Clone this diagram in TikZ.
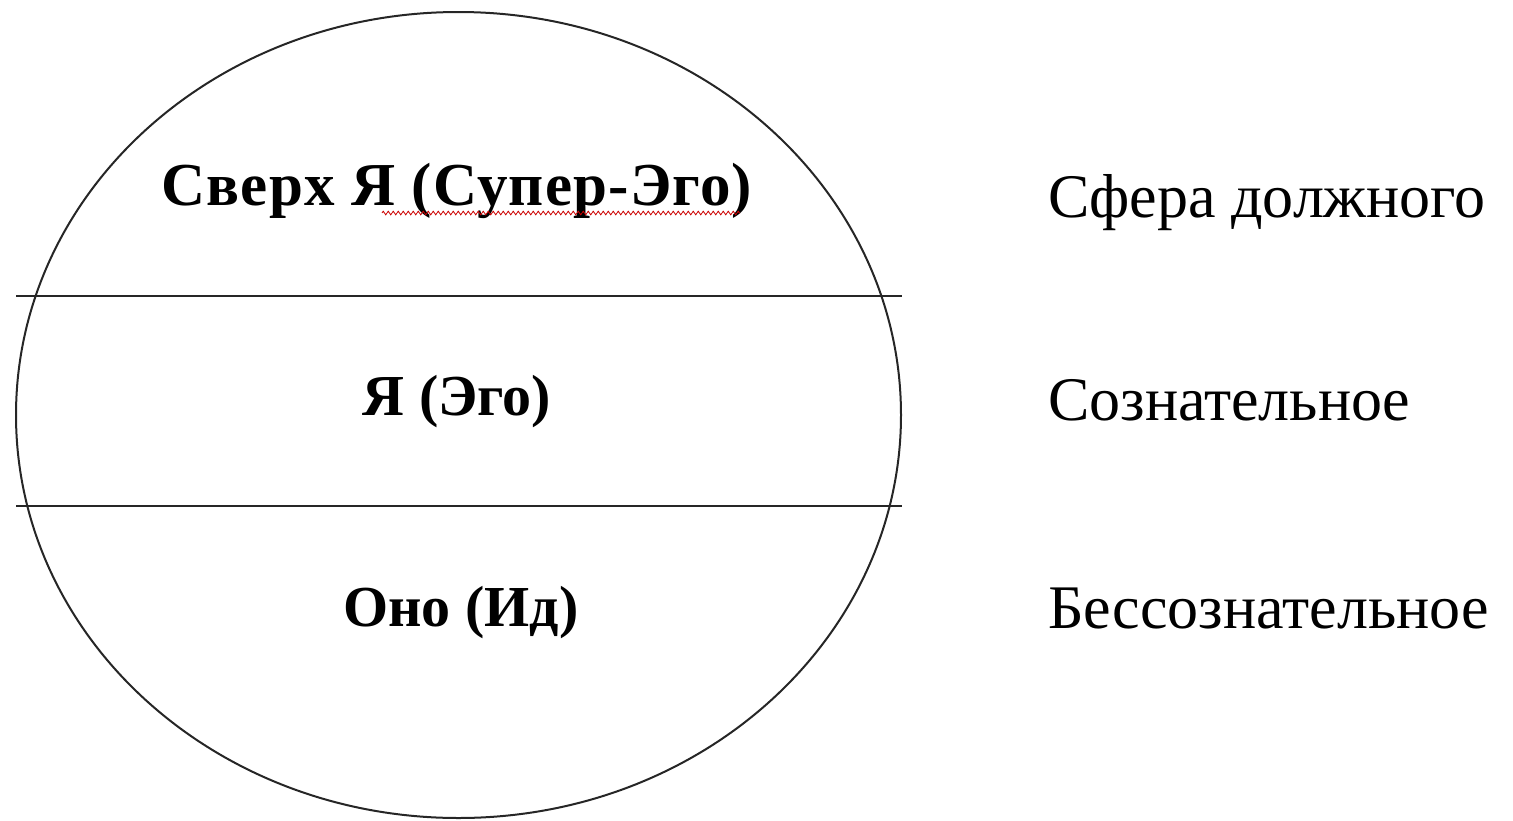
\documentclass[tikz,border=0pt]{standalone}
\usepackage{fontspec}
\setmainfont{Liberation Serif}
\usetikzlibrary{decorations.pathmorphing}
\begin{document}
\begin{tikzpicture}[x=1pt,y=-1pt,
  inner/.style={font=\fontsize{58}{68}\selectfont\bfseries, anchor=base, inner sep=0pt},
  side/.style={font=\fontsize{62}{72}\selectfont, anchor=base west, inner sep=0pt},
  divider/.style={line width=2pt, draw=black!85},
  outline/.style={line width=2pt, draw=black!85}]
\useasboundingbox (0,0) rectangle (1513,820);
\draw[outline] (458.5,415) ellipse [x radius=442.5, y radius=403];
\coordinate (l1a) at (16,296); \coordinate (l1b) at (902,296);
\coordinate (l2a) at (16,506); \coordinate (l2b) at (902,506);
\draw[divider] (l1a) -- (l1b);
\draw[divider] (l2a) -- (l2b);
\node[inner] (super) at (457,205) {\fontsize{61}{70}\selectfont\addfontfeatures{LetterSpace=2}Сверх Я (Супер-Эго)};
\node[inner] (ego) at (457,415) {Я (Эго)};
\node[inner] (id) at (461,626) {Оно (Ид)};
\coordinate (w1) at (382,213); \coordinate (w2) at (740,213);
\draw[red!80!black, line width=0.8pt, decorate, decoration={zigzag, amplitude=1.8pt, segment length=5pt}] (w1) -- (w2);
\node[side] (s1) at (1048,217) {Сфера должного};
\node[side] (s2) at (1048,420) {Сознательное};
\node[side] (s3) at (1048,628) {Бессознательное};
\end{tikzpicture}
\end{document}
